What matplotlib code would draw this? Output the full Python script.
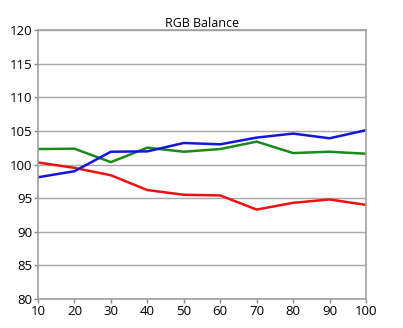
import matplotlib
matplotlib.use("Agg")
import matplotlib.pyplot as plt

# data
x = [10, 20, 30, 40, 50, 60, 70, 80, 90, 100]
red = [100.3, 99.5, 98.4, 96.2, 95.5, 95.4, 93.3, 94.3, 94.8, 94.0]
green = [102.3, 102.35, 100.35, 102.5, 101.9, 102.3, 103.4, 101.7, 101.9, 101.6]
blue = [98.1, 99.0, 101.9, 101.95, 103.2, 103.0, 104.0, 104.6, 103.9, 105.1]
yticks = [80, 85, 90, 95, 100, 105, 110, 115, 120]
xticks = [10, 20, 30, 40, 50, 60, 70, 80, 90, 100]

plt.rcParams['font.family'] = ['Open Sans', 'DejaVu Sans']

fig = plt.figure(figsize=(4.03, 3.28), dpi=100)
ax = fig.add_axes([38/403, 1 - 299/328, (366 - 38)/403, (299 - 30)/328])

ax.plot(x, red, color='#ee1111', lw=1.8)
ax.plot(x, green, color='#1a8a1a', lw=1.8)
ax.plot(x, blue, color='#1515dd', lw=1.8)

ax.set_xlim(10, 100)
ax.set_ylim(80, 120)
ax.set_xticks(xticks)
ax.set_yticks(yticks)
ax.yaxis.grid(True, color='#a8a8a8', lw=1)
ax.set_axisbelow(True)
for s in ax.spines.values():
    s.set_color('#a0a0a0')
    s.set_linewidth(1.2)
ax.tick_params(axis='both', colors='#888888', labelcolor='black', labelsize=9.5, length=3, width=1, pad=1)
ax.set_title('RGB Balance', fontsize=9, pad=2)

fig.savefig('out.png', dpi=100)
